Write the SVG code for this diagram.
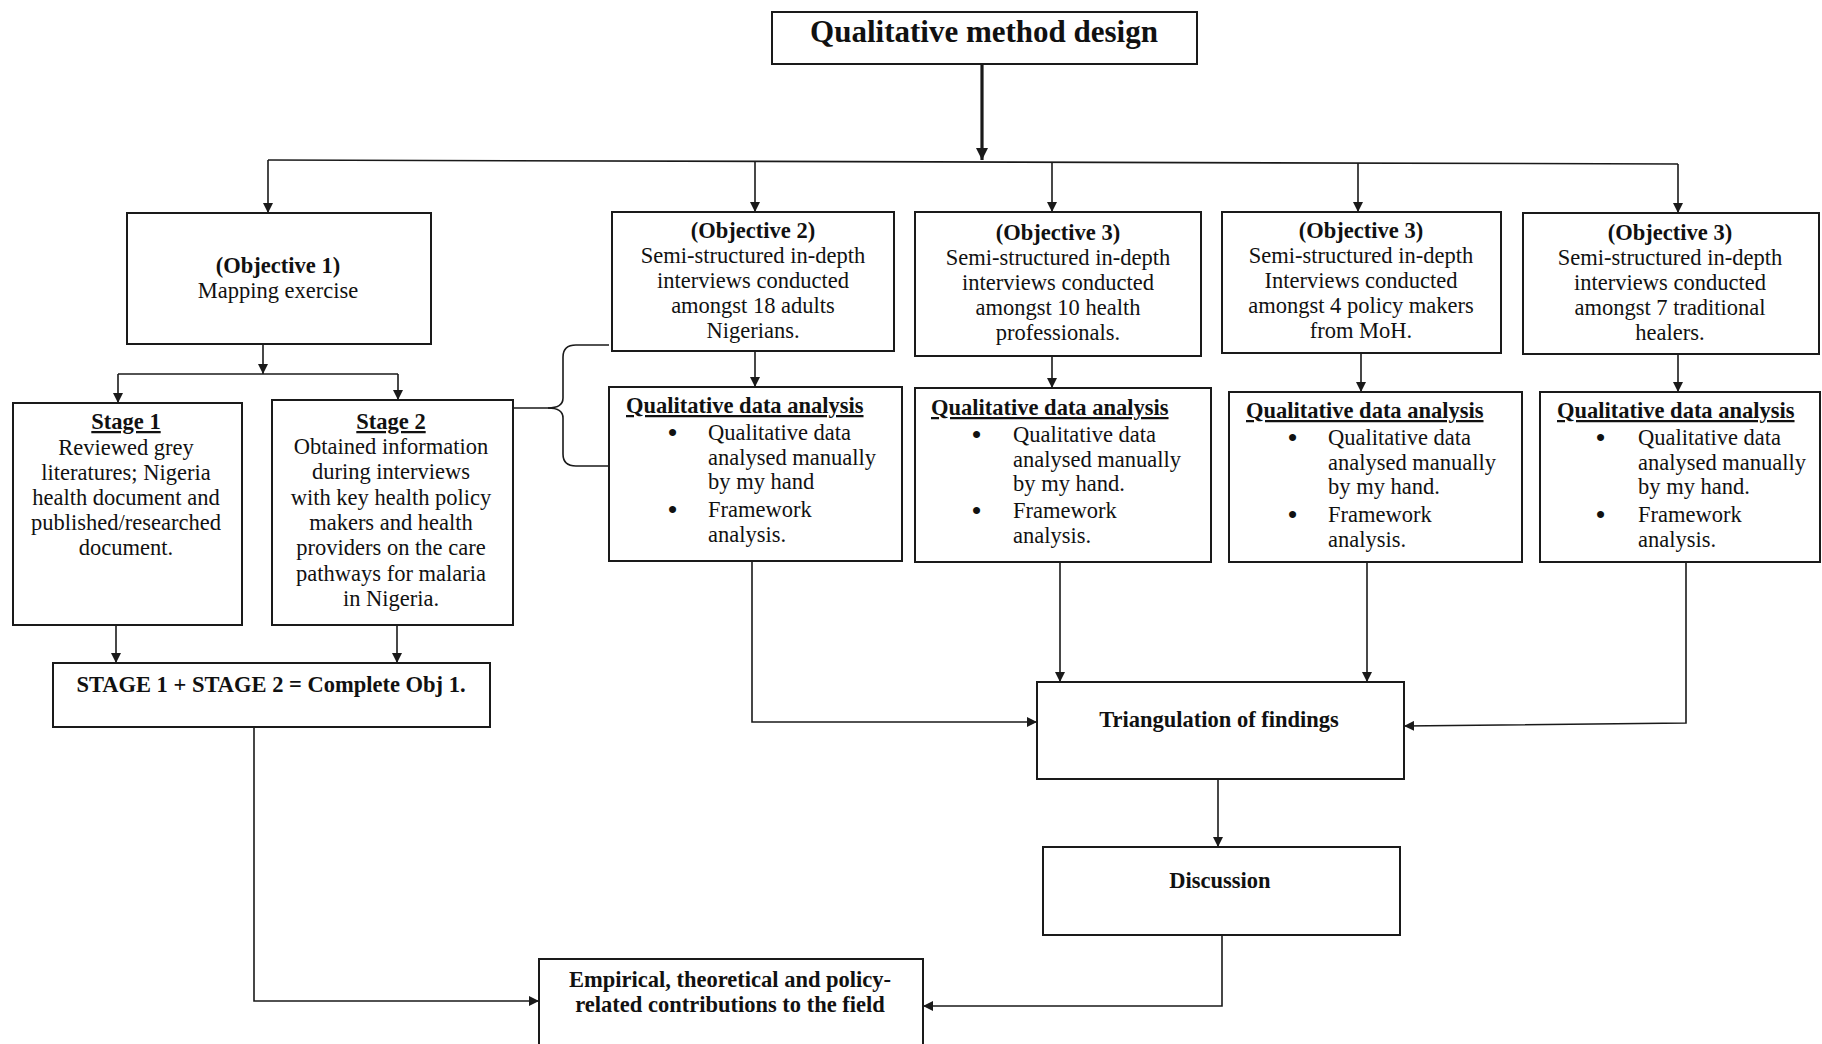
<svg xmlns="http://www.w3.org/2000/svg" width="1822" height="1044" viewBox="0 0 1822 1044">
  <style>
    .box { fill: #ffffff; stroke: #1a1a1a; stroke-width: 2; }
    .t { font-family: "Liberation Serif", "Times New Roman", serif; font-size: 22.5px; fill: #111; }
    .c { text-anchor: middle; }
    .b { font-weight: bold; }
    .u { text-decoration: underline; }
    .dot { font-family: "Liberation Serif", "Times New Roman", serif; font-size: 26px; font-weight: bold; fill: #111; }
    .title { font-family: "Liberation Serif", "Times New Roman", serif; font-size: 31px; font-weight: bold; fill: #111; text-anchor: middle; }
    .link { fill: none; stroke: #1a1a1a; stroke-width: 1.6; }
    .thick { stroke-width: 3.2; }
  </style>
  <defs>
    <marker id="arrow" viewBox="0 0 10 10" refX="10" refY="5" markerWidth="10" markerHeight="10" markerUnits="userSpaceOnUse" orient="auto">
      <path d="M0,0 L10,5 L0,10 z" fill="#1a1a1a"/>
    </marker>
    <marker id="arrowBig" viewBox="0 0 12 12" refX="12" refY="6" markerWidth="12" markerHeight="12" markerUnits="userSpaceOnUse" orient="auto">
      <path d="M0,0 L12,6 L0,12 z" fill="#1a1a1a"/>
    </marker>
  </defs>
  <rect width="1822" height="1044" fill="#ffffff"/>

  <!-- connectors -->
  <g id="connectors">
    <path class="link thick" d="M982,64 L982,160" marker-end="url(#arrowBig)"/>
    <path class="link" d="M268,160 L1678,164"/>
    <path class="link" d="M268,160 L268,213" marker-end="url(#arrow)"/>
    <path class="link" d="M755,162 L755,212" marker-end="url(#arrow)"/>
    <path class="link" d="M1052,163 L1052,212" marker-end="url(#arrow)"/>
    <path class="link" d="M1358,163 L1358,212" marker-end="url(#arrow)"/>
    <path class="link" d="M1678,164 L1678,213" marker-end="url(#arrow)"/>

    <path class="link" d="M263,344 L263,374" marker-end="url(#arrow)"/>
    <path class="link" d="M118,374 L398,374"/>
    <path class="link" d="M118,374 L118,403" marker-end="url(#arrow)"/>
    <path class="link" d="M398,374 L398,400" marker-end="url(#arrow)"/>
    <path class="link" d="M116,625 L116,663" marker-end="url(#arrow)"/>
    <path class="link" d="M397,625 L397,663" marker-end="url(#arrow)"/>
    <path class="link" d="M254,727 L254,1001 L539,1001" marker-end="url(#arrow)"/>

    <!-- brace joining Stage 2 to the Objective 2 column -->
    <path class="link" d="M513,408 L548,408 Q563,408 563,398 L563,357 Q563,345 576,345 L609,345"/>
    <path class="link" d="M548,408 Q563,408 563,418 L563,454 Q563,466 576,466 L609,466"/>

    <path class="link" d="M755,351 L755,387" marker-end="url(#arrow)"/>
    <path class="link" d="M1052,356 L1052,388" marker-end="url(#arrow)"/>
    <path class="link" d="M1361,353 L1361,392" marker-end="url(#arrow)"/>
    <path class="link" d="M1678,354 L1678,392" marker-end="url(#arrow)"/>

    <path class="link" d="M752,561 L752,722 L1037,722" marker-end="url(#arrow)"/>
    <path class="link" d="M1060,562 L1060,682" marker-end="url(#arrow)"/>
    <path class="link" d="M1367,562 L1367,682" marker-end="url(#arrow)"/>
    <path class="link" d="M1686,562 L1686,723 L1404,726" marker-end="url(#arrow)"/>

    <path class="link" d="M1218,779 L1218,847" marker-end="url(#arrow)"/>
    <path class="link" d="M1222,935 L1222,1006 L923,1006" marker-end="url(#arrow)"/>
  </g>

  <!-- title -->
  <g id="title">
    <rect class="box" x="772" y="12" width="425" height="52"/>
    <text class="title" x="984" y="42">Qualitative method design</text>
  </g>

  <g id="objective1">
    <rect class="box" x="127" y="213" width="304" height="131"/>
    <text class="t c b" x="278" y="273">(Objective 1)</text>
    <text class="t c" x="278" y="298">Mapping exercise</text>
  </g>

  <g id="objective2">
    <rect class="box" x="612" y="212" width="282" height="139"/>
    <text class="t c b" x="753" y="238">(Objective 2)</text>
    <text class="t c" x="753" y="263">Semi-structured in-depth</text>
    <text class="t c" x="753" y="288">interviews conducted</text>
    <text class="t c" x="753" y="313">amongst 18 adults</text>
    <text class="t c" x="753" y="338">Nigerians.</text>
  </g>

  <g id="objective3-health">
    <rect class="box" x="915" y="212" width="286" height="144"/>
    <text class="t c b" x="1058" y="240">(Objective 3)</text>
    <text class="t c" x="1058" y="265">Semi-structured in-depth</text>
    <text class="t c" x="1058" y="290">interviews conducted</text>
    <text class="t c" x="1058" y="315">amongst 10 health</text>
    <text class="t c" x="1058" y="340">professionals.</text>
  </g>

  <g id="objective3-policy">
    <rect class="box" x="1222" y="212" width="279" height="141"/>
    <text class="t c b" x="1361" y="238">(Objective 3)</text>
    <text class="t c" x="1361" y="263">Semi-structured in-depth</text>
    <text class="t c" x="1361" y="288">Interviews conducted</text>
    <text class="t c" x="1361" y="313">amongst 4 policy makers</text>
    <text class="t c" x="1361" y="338">from MoH.</text>
  </g>

  <g id="objective3-healers">
    <rect class="box" x="1523" y="213" width="296" height="141"/>
    <text class="t c b" x="1670" y="240">(Objective 3)</text>
    <text class="t c" x="1670" y="265">Semi-structured in-depth</text>
    <text class="t c" x="1670" y="290">interviews conducted</text>
    <text class="t c" x="1670" y="315">amongst 7 traditional</text>
    <text class="t c" x="1670" y="340">healers.</text>
  </g>

  <g id="stage1">
    <rect class="box" x="13" y="403" width="229" height="222"/>
    <text class="t c b u" x="126" y="429">Stage 1</text>
    <text class="t c" x="126" y="455">Reviewed grey</text>
    <text class="t c" x="126" y="480">literatures; Nigeria</text>
    <text class="t c" x="126" y="505">health document and</text>
    <text class="t c" x="126" y="530">published/researched</text>
    <text class="t c" x="126" y="555">document.</text>
  </g>

  <g id="stage2">
    <rect class="box" x="272" y="400" width="241" height="225"/>
    <text class="t c b u" x="391" y="429">Stage 2</text>
    <text class="t c" x="391" y="454">Obtained information</text>
    <text class="t c" x="391" y="479">during interviews</text>
    <text class="t c" x="391" y="505">with key health policy</text>
    <text class="t c" x="391" y="530">makers and health</text>
    <text class="t c" x="391" y="555">providers on the care</text>
    <text class="t c" x="391" y="581">pathways for malaria</text>
    <text class="t c" x="391" y="606">in Nigeria.</text>
  </g>

  <g id="stage-complete">
    <rect class="box" x="53" y="663" width="437" height="64"/>
    <text class="t c b" x="271" y="692">STAGE 1 + STAGE 2 = Complete Obj 1.</text>
  </g>

  <g id="analysis-adults">
    <rect class="box" x="609" y="387" width="293" height="174"/>
    <text class="t b u" x="626" y="413">Qualitative data analysis</text>
    <text class="dot" x="668" y="441">•</text>
    <text class="t" x="708" y="440">Qualitative data</text>
    <text class="t" x="708" y="465">analysed manually</text>
    <text class="t" x="708" y="489">by my hand</text>
    <text class="dot" x="668" y="518">•</text>
    <text class="t" x="708" y="517">Framework</text>
    <text class="t" x="708" y="542">analysis.</text>
  </g>

  <g id="analysis-health">
    <rect class="box" x="915" y="388" width="296" height="174"/>
    <text class="t b u" x="931" y="415">Qualitative data analysis</text>
    <text class="dot" x="972" y="443">•</text>
    <text class="t" x="1013" y="442">Qualitative data</text>
    <text class="t" x="1013" y="467">analysed manually</text>
    <text class="t" x="1013" y="491">by my hand.</text>
    <text class="dot" x="972" y="519">•</text>
    <text class="t" x="1013" y="518">Framework</text>
    <text class="t" x="1013" y="543">analysis.</text>
  </g>

  <g id="analysis-policy">
    <rect class="box" x="1229" y="392" width="293" height="170"/>
    <text class="t b u" x="1246" y="418">Qualitative data analysis</text>
    <text class="dot" x="1288" y="446">•</text>
    <text class="t" x="1328" y="445">Qualitative data</text>
    <text class="t" x="1328" y="470">analysed manually</text>
    <text class="t" x="1328" y="494">by my hand.</text>
    <text class="dot" x="1288" y="523">•</text>
    <text class="t" x="1328" y="522">Framework</text>
    <text class="t" x="1328" y="547">analysis.</text>
  </g>

  <g id="analysis-healers">
    <rect class="box" x="1540" y="392" width="280" height="170"/>
    <text class="t b u" x="1557" y="418">Qualitative data analysis</text>
    <text class="dot" x="1596" y="446">•</text>
    <text class="t" x="1638" y="445">Qualitative data</text>
    <text class="t" x="1638" y="470">analysed manually</text>
    <text class="t" x="1638" y="494">by my hand.</text>
    <text class="dot" x="1596" y="523">•</text>
    <text class="t" x="1638" y="522">Framework</text>
    <text class="t" x="1638" y="547">analysis.</text>
  </g>

  <g id="triangulation">
    <rect class="box" x="1037" y="682" width="367" height="97"/>
    <text class="t c b" x="1219" y="727">Triangulation of findings</text>
  </g>

  <g id="discussion">
    <rect class="box" x="1043" y="847" width="357" height="88"/>
    <text class="t c b" x="1220" y="888">Discussion</text>
  </g>

  <g id="contributions">
    <rect class="box" x="539" y="959" width="384" height="100"/>
    <text class="t c b" x="730" y="987">Empirical, theoretical and policy-</text>
    <text class="t c b" x="730" y="1012">related contributions to the field</text>
  </g>
</svg>
